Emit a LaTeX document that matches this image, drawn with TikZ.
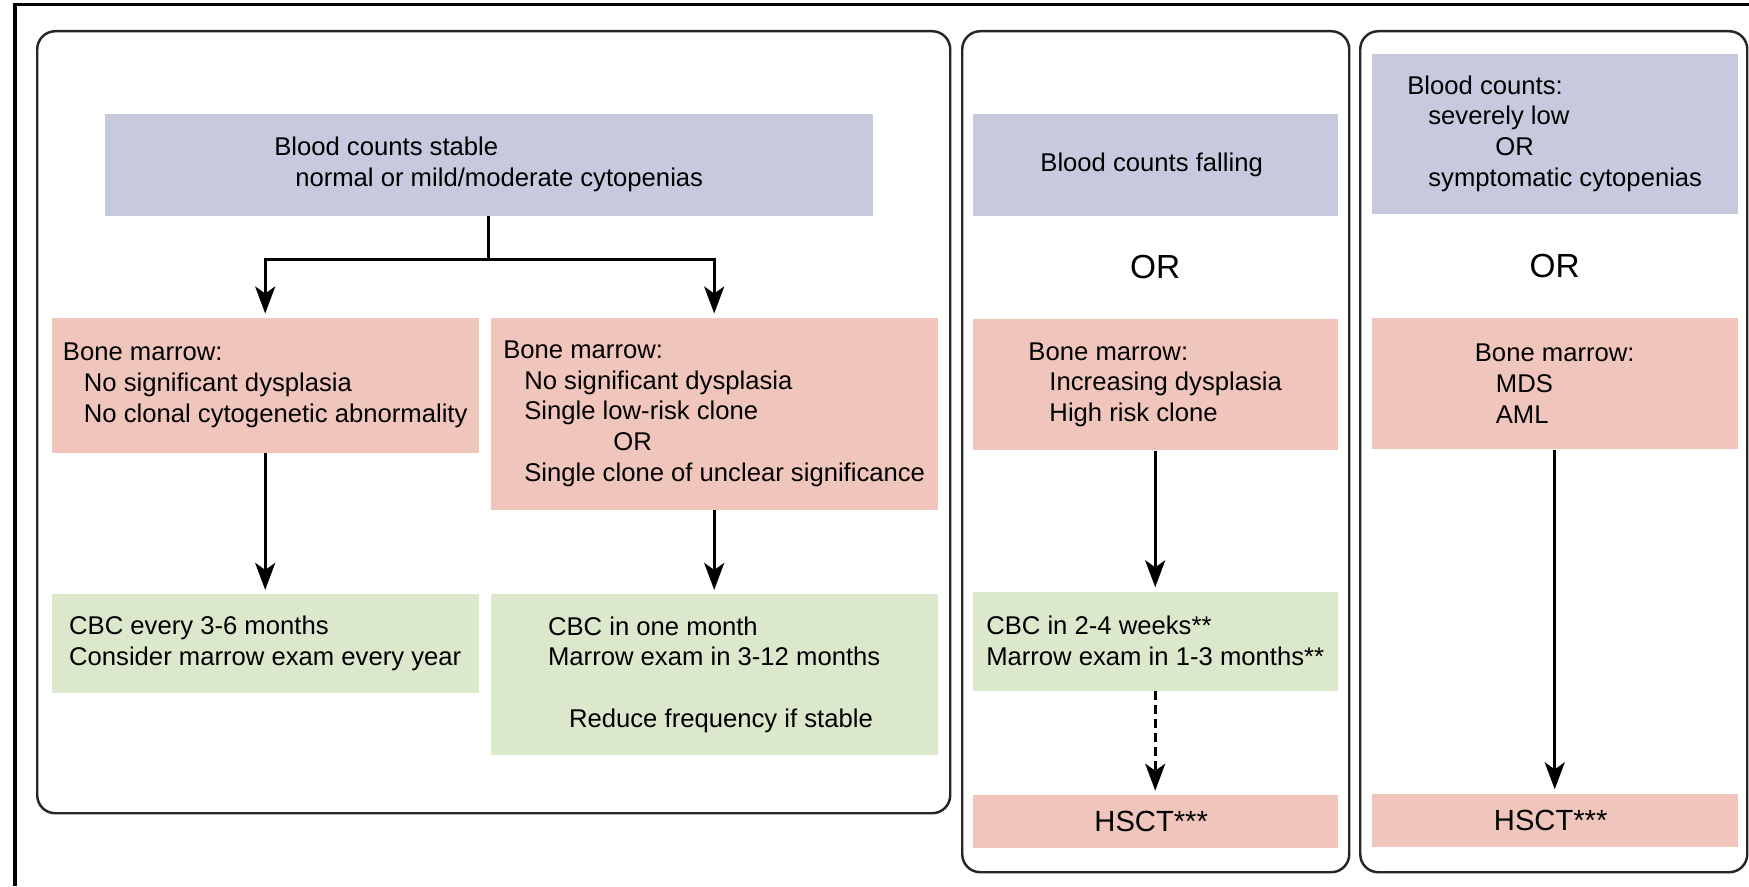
\documentclass[tikz,border=0pt]{standalone}
\usepackage{fontspec}
\setmainfont{Liberation Sans}
\usetikzlibrary{arrows.meta,positioning,calc}
\definecolor{countsblue}{RGB}{199,201,222}
\definecolor{marrowpink}{RGB}{240,197,188}
\definecolor{followgreen}{RGB}{219,232,204}
\tikzstyle{panel}=[rectangle, draw=black!85, line width=0.7pt, rounded corners=1.8mm,
        anchor=north west, inner sep=0pt]
\tikzstyle{abstract}=[rectangle, inner sep=0pt, align=left, anchor=north west,
        font=\fontsize{7.3}{8.75}\selectfont]
\tikzstyle{counts}=[abstract, fill=countsblue]
\tikzstyle{marrow}=[abstract, fill=marrowpink]
\tikzstyle{follow}=[abstract, fill=followgreen]
\tikzstyle{link}=[line width=0.8pt, -{Stealth[length=2.7mm, width=2mm, inset=0.7mm]}, shorten >=0.35mm]
\newcommand{\pad}[1][2.1mm]{\hspace*{#1}}

\begin{document}
\begin{tikzpicture}[x=0.1mm, y=-0.1mm]
    \useasboundingbox (0,0) rectangle (1749,886);
    \draw[line width=1.1pt] (15,886) -- (15,4.5) -- (1749,4.5);

    \node (Panel1) [panel, minimum width=91.3mm, minimum height=78.2mm] at (36,30) {};
    \node (Panel2) [panel, minimum width=38.7mm, minimum height=84.1mm] at (961,30) {};
    \node (Panel3) [panel, minimum width=38.7mm, minimum height=84.1mm] at (1359,30) {};

    % stable counts
    \node (Stable) [counts, minimum width=76.8mm, minimum height=10.2mm] at (104,113)
        {
            Blood counts stable\\
            \pad normal or mild/moderate cytopenias
        };

    \node (Marrow1) [marrow, minimum width=42.7mm, minimum height=13.5mm] at (51,317)
        {
            Bone marrow:\\
            \pad No significant dysplasia\\
            \pad No clonal cytogenetic abnormality
        };

    \node (Marrow2) [marrow, minimum width=44.7mm, minimum height=19.2mm] at (490,317)
        {
            Bone marrow:\\
            \pad No significant dysplasia\\
            \pad Single low-risk clone\\
            \pad[11mm]OR\\
            \pad Single clone of unclear significance
        };

    \node (Followup1) [follow, minimum width=42.7mm, minimum height=9.9mm, below=14mm of Marrow1]
        {
            CBC every 3-6 months\\
            Consider marrow exam every year
        };

    \node (Followup2) [follow, minimum width=44.7mm, minimum height=16.1mm, below=8.3mm of Marrow2]
        {
            CBC in one month\\
            Marrow exam in 3-12 months\\[8.75pt]
            \pad Reduce frequency if stable
        };

    % falling counts
    \node (Falling) [counts, minimum width=36.5mm, minimum height=10.2mm] at (972,113)
        {
            Blood counts falling
        };

    \node (Marrow3) [marrow, minimum width=36.5mm, minimum height=13.1mm, below=10.2mm of Falling]
        {
            Bone marrow:\\
            \pad Increasing dysplasia\\
            \pad High risk clone
        };

    \node (Followup3) [follow, minimum width=36.5mm, minimum height=9.9mm, below=14mm of Marrow3]
        {
            CBC in 2-4 weeks**\\
            Marrow exam in 1-3 months**
        };

    \node (HSCT1) [marrow, minimum width=36.5mm, minimum height=5.3mm, below=10.3mm of Followup3,
        font=\fontsize{8.3}{10}\selectfont]
        {
            HSCT***
        };

    % severe counts
    \node (Severe) [counts, minimum width=36.6mm, minimum height=16mm] at (1371,53)
        {
            Blood counts:\\
            \pad severely low\\
            \pad[8.8mm]OR\\
            \pad symptomatic cytopenias
        };

    \node (Marrow4) [marrow, minimum width=36.6mm, minimum height=13.1mm, below=10.3mm of Severe]
        {
            Bone marrow:\\
            \pad MDS\\
            \pad AML
        };

    \node (HSCT2) [marrow, minimum width=36.6mm, minimum height=5.3mm, below=34.3mm of Marrow4,
        font=\fontsize{8.3}{10}\selectfont]
        {
            HSCT***
        };

    \node (Or1) [font=\fontsize{9.5}{11}\selectfont] at ($(Falling.south)!0.5!(Marrow3.north)$) {OR};
    \node (Or2) [font=\fontsize{9.5}{11}\selectfont] at ($(Severe.south)!0.5!(Marrow4.north)$) {OR};

    \coordinate (Split) at ($(Stable.south)+(0,43)$);
    \draw[link] (Stable.south) -- (Split) -| (Marrow1.north);
    \draw[link] (Split) -| (Marrow2.north);
    \draw[link] (Marrow1.south) -- (Followup1.north);
    \draw[link] (Marrow2.south) -- (Followup2.north);
    \draw[link] (Marrow3.south) -- (Followup3.north);
    \draw[link, dash pattern=on 0.9mm off 0.5mm] (Followup3.south) -- (HSCT1.north);
    \draw[link] (Marrow4.south) -- (HSCT2.north);

\end{tikzpicture}
\end{document}
